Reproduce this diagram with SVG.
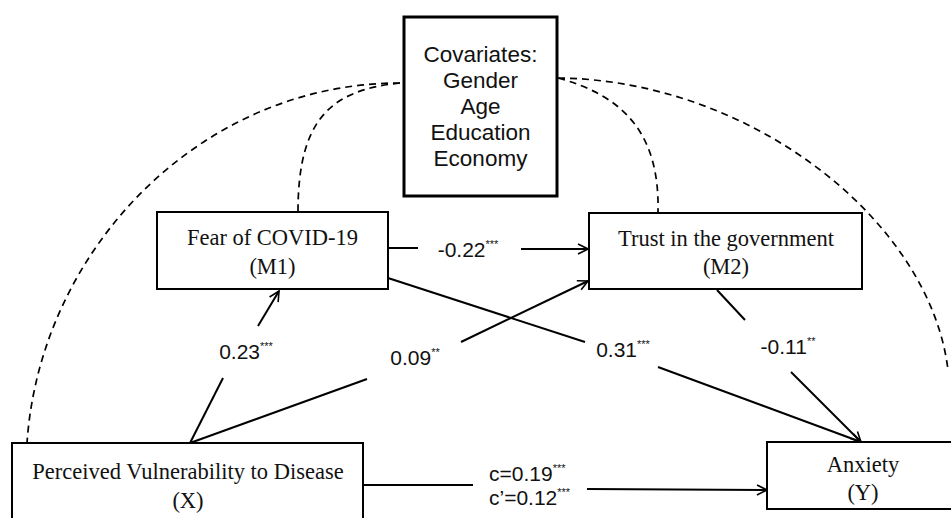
<svg xmlns="http://www.w3.org/2000/svg" width="951" height="518" viewBox="0 0 951 518">
<defs>
<marker id="arr" viewBox="0 0 12 12" refX="11" refY="6" markerWidth="12" markerHeight="12" markerUnits="userSpaceOnUse" orient="auto">
<path d="M1,1 L11,6 L1,11" fill="none" stroke="#000" stroke-width="1.6"/>
</marker>
</defs>
<style>
.box{fill:#fff;stroke:#000;stroke-width:2}
.cov{fill:#fff;stroke:#000;stroke-width:3}
.tn{font-family:"Liberation Serif","Times New Roman",serif;font-size:22.5px;fill:#111;text-anchor:middle}
.ar{font-family:"Liberation Sans",Arial,sans-serif;font-size:22.5px;fill:#111;text-anchor:middle}
.lb{font-family:"Liberation Sans",Arial,sans-serif;font-size:21px;fill:#111}
.sup{font-size:11px}
.ln{fill:none;stroke:#000;stroke-width:2}
.dash{fill:none;stroke:#000;stroke-width:1.7;stroke-dasharray:7 5}
</style>
<rect width="951" height="518" fill="#fff"/>
<g id="connectors">
<path class="dash" d="M400,83 C200,83 40,250 27,443"/>
<path class="dash" d="M400,83 C330,90 298,120 298,212"/>
<path class="dash" d="M558,78 C620,95 660,130 658,212"/>
<path class="dash" d="M558,78 C750,80 930,220 948,370"/>
<path class="ln" d="M388,248 L418,248"/>
<path class="ln" d="M521,249 L588,249" marker-end="url(#arr)"/>
<path class="ln" d="M190,443 L223,378"/>
<path class="ln" d="M258,326 L279,291" marker-end="url(#arr)"/>
<path class="ln" d="M190,443 L367,379"/>
<path class="ln" d="M461,342 L588,281" marker-end="url(#arr)"/>
<path class="ln" d="M388,278 L585,342"/>
<path class="ln" d="M658,367 L861,442" marker-end="url(#arr)"/>
<path class="ln" d="M717,290 L745,320"/>
<path class="ln" d="M791,372 L861,442" marker-end="url(#arr)"/>
<path class="ln" d="M363,485 L473,485"/>
<path class="ln" d="M587,489 L767,490" marker-end="url(#arr)"/>
<text class="lb" x="468" y="257" text-anchor="middle">-0.22<tspan class="sup" dy="-9">***</tspan></text>
<text class="lb" x="246" y="359" text-anchor="middle">0.23<tspan class="sup" dy="-9">***</tspan></text>
<text class="lb" x="415" y="365" text-anchor="middle">0.09<tspan class="sup" dy="-9">**</tspan></text>
<text class="lb" x="623" y="357" text-anchor="middle">0.31<tspan class="sup" dy="-9">***</tspan></text>
<text class="lb" x="788" y="354" text-anchor="middle">-0.11<tspan class="sup" dy="-9">**</tspan></text>
<text class="lb" x="489" y="481">c=0.19<tspan class="sup" dy="-9">***</tspan></text>
<text class="lb" x="489" y="505">c’=0.12<tspan class="sup" dy="-9">***</tspan></text>
</g>
<g id="covariates">
<rect class="cov" x="404" y="17" width="153" height="179"/>
<text class="ar" x="480.5" y="62">Covariates:</text>
<text class="ar" x="480.5" y="88">Gender</text>
<text class="ar" x="480.5" y="114">Age</text>
<text class="ar" x="480.5" y="140">Education</text>
<text class="ar" x="480.5" y="166">Economy</text>
</g>
<g id="m1">
<rect class="box" x="157" y="212" width="231" height="77"/>
<text class="tn" x="272.5" y="245">Fear of COVID-19</text>
<text class="tn" x="272.5" y="274">(M1)</text>
</g>
<g id="m2">
<rect class="box" x="589" y="213" width="273" height="76"/>
<text class="tn" x="726" y="246">Trust in the government</text>
<text class="tn" x="726" y="274">(M2)</text>
</g>
<g id="x">
<rect class="box" x="12" y="443" width="351" height="90"/>
<text class="tn" x="188" y="479">Perceived Vulnerability to Disease</text>
<text class="tn" x="188" y="508">(X)</text>
</g>
<g id="y">
<rect class="box" x="767" y="442" width="195" height="67"/>
<text class="tn" x="863" y="472">Anxiety</text>
<text class="tn" x="863" y="500">(Y)</text>
</g>
</svg>
